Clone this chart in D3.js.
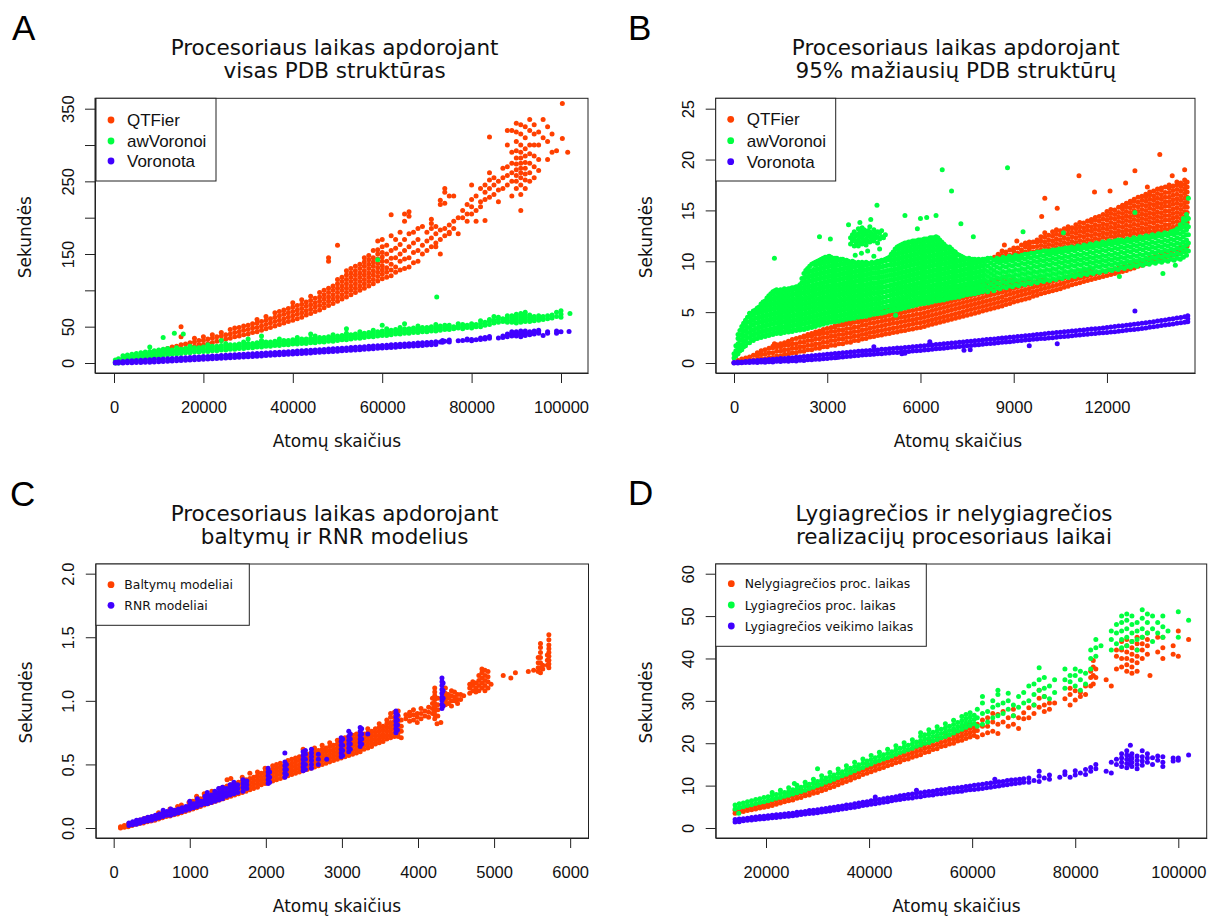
<!DOCTYPE html>
<html>
<head>
<meta charset="utf-8">
<script src="https://cdn.jsdelivr.net/npm/d3@7"></script>
<style>
  body { margin: 0; background: #fff; }
  svg { display: block; }
</style>
</head>
<body>
<svg id="fig" width="1214" height="917"></svg>
<script>
// Each series is a list of columns: [atom count, seconds, seconds, ...]
// (structures with the same atom count share one column).

// ---------- A: all PDB structures ----------
const atomTicksAll = [0, 20000, 40000, 60000, 80000, 100000];
const secTicksAll = [0, 50, 100, 150, 200, 250, 300, 350];
const secLabelsAll = [0, 50, 150, 250, 350];
const toolNames = ["QTFier", "awVoronoi", "Voronota"];

const qtfierAll = [
[500,0.5,2],[1000,1,3],[2000,2,4],[3000,3,6],[4000,4,7],[5000,5,9],[6000,6,10],[7000,7,12],[8000,9,13],[9000,10,15],[10000,11,17],[11000,13,18],[12000,14,20],[13000,16,22],[14000,17,23],[15000,19,25,36,50],[16000,20,26],[17000,22,28],[18000,23,29,34],[19000,25,31],[20000,25,31,36],[21000,27,33],[22000,28,34,39],[23000,30,36],[24000,31,37,42],[25000,33,39],[26000,34,40,46],[27000,36,42,48],[28000,37,43,49],[29000,39,45,51],[30000,40,46,52],[31000,42,48,54],[32000,43,49,55,60],[33000,45,51,57],[34000,47,53,59,64],[35000,49,55,61],[36000,51,57,63,69],[37000,53,59,65,71],[38000,55,61,67,73],[39000,57,63,69,75],[40000,59,65,71,77,83],[41000,61,67,73,79],[42000,63,69,75,81,87],[43000,66,72,78,84],[44000,68,74,80,86,92],[45000,71,77,83,89],[46000,73,79,85,91,97],[47000,76,82,88,94,100],[48000,79,85,91,97,103,140,145],[49000,82,88,94,100,106],[50000,85,91,97,103,109,115,162],[51000,88,94,100,106,112,118],[52000,91,97,103,109,115,121,127],[53000,94,100,106,112,118,124,130],[54000,97,103,109,115,121,127,133],[55000,100,106,112,118,124,130,136],[56000,103,109,115,121,127,133,139,145],[57000,106,112,118,124,130,136,142,148],[58000,109,115,121,127,133,139,145,155],[59000,113,119,125,131,137,143,150,156,168],[60000,116,122,128,134,140,146,152,160,170],[61000,118,125,131,140,150,162],[62000,120,128,136,144,155,175,204],[63000,125,132,145,158,170],[64000,128,140,150,163,180],[65000,130,143,155,170,195,205],[66000,132,145,160,178,202,208],[67000,138,152,165,180],[68000,140,155,170,185],[69000,150,162,188],[70000,155,168,180],[71000,160,172,185,192,198],[72000,160,165,178,188],[73000,150,170,183,218,224],[74000,175,185,220,235,240],[75000,178,180,190,230],[76000,185,195,230],[77000,178,200],[78000,200,210],[79000,195,205,218],[80000,205,215,225,245],[81000,195,210,230],[82000,215,222,240],[83000,196,225,235,245],[84000,228,240,252,262,311],[85000,232,245,255],[86000,222,238,250],[87000,240,255,268],[88000,245,258,270,300,320],[89000,230,250,262,275,290,320],[90000,240,250,258,266,274,282,292,305,318,330],[91000,210,232,245,255,262,268,275,282,290,300,315,328],[92000,240,252,260,268,276,285,295,310,325],[93000,250,262,275,288,300,320,335],[94000,255,270,285,300,315,328],[95000,265,280,300,318],[96000,310,335],[97000,280,305,325],[98000,290,315],[99000,292],[100300,357,309],[101500,290]
];
const awVoronoiAll = [
[300,0,2,4],[1000,0,3,6],[2000,1,4,7,10],[3000,2,5,8,11],[4000,3,6,9,12],[5000,4,7,10,13],[6000,5,8,11,14],[7000,6,9,12,15],[8000,7,10,13,16,22],[9000,8,11,14,17],[10000,9,12,15,18],[11000,10,13,16,19,35],[12000,11,14,17,20],[13000,12,15,18],[13500,41],[14000,12,15,18,21],[15000,13,16,19],[15500,40],[16000,14,17,20],[17000,14,17,20,23],[18000,15,18,21],[19000,15,18,21],[20000,16,19,22],[21000,16,19,22,25],[22000,17,20,23],[23000,17,20,23],[24000,18,21,24,31],[25000,18,21,24,27],[26000,19,22,25],[27000,19,22,25],[28000,20,23,26],[29000,20,23,26,29],[30000,21,24,27,33],[31000,21,24,27],[32000,22,25,28],[33000,22,25,28,31,37],[34000,23,26,29],[35000,23,26,29],[36000,24,27,30],[37000,24,27,30,33],[38000,25,28,31],[39000,25,28,31],[40000,26,29,32],[41000,26,29,32,35],[42000,27,30,33],[43000,27,30,33],[44000,28,31,34,40],[45000,28,31,34,37],[46000,29,32,35],[47000,29,32,35],[48000,30,33,36],[49000,30,33,36,39],[50000,31,34,37],[51000,32,35,38],[52000,32,35,38,41,47],[53000,33,36,39],[54000,34,37,40],[55000,34,37,40,43],[56000,35,38,41],[57000,36,39,42],[58000,36,39,42,45],[59000,37,40,43,142],[60000,38,41,44,52],[61000,38,41,44,47],[62000,39,42,45],[63000,40,43,46],[64000,40,43,46,49],[65000,41,44,47,54],[66000,41,44,47],[67000,42,45,48],[68000,42,45,48,51],[69000,43,46,49],[70000,43,46,49],[71000,44,47,50],[72000,44,47,50,53],[72200,91],[73000,45,48,51],[74000,46,49,52],[75000,46,49,52],[76000,47,50],[77000,48,51,54],[78000,47,50,53],[79000,49,52],[80000,48,51,54],[81000,50,53],[82000,50,54,58],[83000,52,56],[84000,53,57,60],[85000,55,59,64],[86000,56,60,63],[87000,57,61],[88000,56,59,62,65],[89000,56,59,62,65],[90000,55,58,61,64,67],[91000,56,59,62,65,68],[92000,57,60,63,66,70],[93000,57,60,63,66],[94000,58,61,64],[95000,59,62,65],[96000,60,64],[97000,61,65],[98000,62,66],[99000,64,70],[100000,63,67,72],[102000,68]
];
const voronotaAll = [
[300,0,1],[1000,0,1.8],[2000,0,2.2],[3000,0.2,2.6],[4000,0.5,3],[5000,0.6,3.3],[6000,0.8,3.8],[7000,1,4.2],[8000,1.2,4.6],[9000,1.5,5],[10000,1.8,5.2],[11000,2.1,5.6],[12000,2.4,6],[13000,2.7,6.3],[14000,3.1,6.7],[15000,3.4,7],[16000,3.8,7.4],[17000,4.1,7.7],[18000,4.5,8.1],[19000,4.8,8.4],[20000,5.2,8.8],[21000,5.5,9.1],[22000,5.9,9.5],[23000,6.2,9.8],[24000,6.6,10.2],[25000,6.9,10.5],[26000,7.3,10.9],[27000,7.6,11.2],[28000,8,11.6],[29000,8.3,11.9],[30000,8.7,12.3],[31000,9.1,12.7],[32000,9.4,13],[33000,9.8,13.4],[34000,10.2,13.8],[35000,10.5,14.1],[36000,10.9,14.5],[37000,11.3,14.9],[38000,11.6,15.2],[39000,12,15.6],[40000,12.4,16],[41000,12.8,16.4],[42000,13.2,16.8],[43000,13.5,17.1],[44000,13.9,17.5],[45000,14.3,17.9],[46000,14.7,18.3],[47000,15.1,18.7],[48000,15.5,19.1],[49000,15.9,19.5],[50000,16.3,19.9],[51000,16.7,20.3],[52000,17.1,20.7],[53000,17.6,21.2],[54000,18,21.6],[55000,18.4,22],[56000,18.8,22.4],[57000,19.3,22.9],[58000,19.7,23.3],[59000,20.2,23.8],[60000,20.6,24.2],[61000,21,24.6],[62000,21.4,25],[63000,21.8,25.4],[64000,22.2,25.8],[65000,22.6,26.2],[66000,23,26.6],[67000,23.4,27],[68000,23.8,27.4],[69000,24.2,27.8],[70000,24.7,28.3],[71000,25.1,28.7],[72000,25.5,29.1],[73000,29],[73500,28.5,31],[74000,30],[75000,29,31.5],[77000,30.5],[78000,31],[79000,31.5,33],[80000,30.5,32.5],[81000,32],[82000,32.5,34.5],[83000,33,35],[84000,34,36.5],[86000,34.5],[87000,35,37],[88000,36,38.5,40],[89000,37,39,41,43],[90000,37,39,41,43],[91000,36,38,40,42,44],[92000,38,40,42,44],[93000,39,41,43],[94000,40,42,44],[95000,41,43,45],[96000,38],[97000,41,43],[99000,41,44],[100000,43],[101800,43.5]
];

// ---------- B: smallest 95% of PDB structures ----------
const atomTicksSmall = [0, 3000, 6000, 9000, 12000];
const secTicksSmall = [0, 5, 10, 15, 20, 25];

const qtfierSmall = [
[0,0.03],[125,0.08,0.25],[250,0.05,0.4],[375,0.15,0.5],[500,0.15,0.6],[625,0.3,0.75],[750,0.3,0.7,1.0],[875,0.45,0.85,1.2],[1000,0.4,0.85,1.3],[1125,0.55,1.0,1.45],[1250,0.55,1.0,1.5,1.65],[1300,1.9],[1375,0.7,1.15,1.6,1.8],[1500,0.7,1.15,1.6,1.9],[1625,0.85,1.3,1.75,2.0],[1750,0.85,1.3,1.75,2.15],[1875,1.0,1.45,1.9,2.3],[2000,1.0,1.45,1.9,2.4],[2125,1.15,1.6,2.05,2.5],[2250,1.15,1.6,2.05,2.5,2.65],[2375,1.3,1.75,2.2,2.65,2.8],[2500,1.3,1.75,2.2,2.65,2.9],[2625,1.45,1.9,2.35,2.8,3.05],[2750,1.45,1.9,2.35,2.8,3.15],[2800,3.9],[2875,1.6,2.05,2.5,2.95,3.3],[3000,1.6,2.05,2.5,2.95,3.4],[3125,1.75,2.2,2.65,3.1,3.5],[3250,1.75,2.2,2.65,3.1,3.55,3.65],[3375,1.9,2.35,2.8,3.25,3.7],[3500,1.9,2.35,2.8,3.25,3.7,3.9],[3625,2.05,2.5,2.95,3.4,3.85,4.0],[3700,4.8],[3750,2.05,2.5,2.95,3.4,3.85,4.15],[3875,2.2,2.65,3.1,3.55,4.0,4.3],[4000,2.2,2.65,3.1,3.55,4.0,4.4],[4125,2.35,2.8,3.25,3.7,4.15,4.5],[4250,2.4,2.85,3.3,3.75,4.2,4.65],[4375,2.55,3.0,3.45,3.9,4.35,4.8],[4500,2.6,3.05,3.5,3.95,4.4,4.85],[4625,2.7,3.15,3.6,4.05,4.5,4.95],[4750,2.75,3.2,3.65,4.1,4.55,5.0,5.15],[4875,2.85,3.3,3.75,4.2,4.65,5.1,5.3],[5000,2.9,3.35,3.8,4.25,4.7,5.15,5.4],[5125,3.0,3.45,3.9,4.35,4.8,5.25,5.5],[5250,3.05,3.5,3.95,4.4,4.85,5.3,5.6],[5375,3.15,3.6,4.05,4.5,4.95,5.4,5.7],[5500,3.2,3.65,4.1,4.55,5.0,5.45,5.8],[5625,3.3,3.75,4.2,4.65,5.1,5.55,5.9],[5750,3.35,3.8,4.25,4.7,5.15,5.6,6.0],[5875,3.45,3.9,4.35,4.8,5.25,5.7,6.1],[6000,3.5,3.95,4.4,4.85,5.3,5.75,6.2],[6125,3.6,4.05,4.5,4.95,5.4,5.85,6.3],[6250,3.7,4.15,4.6,5.05,5.5,5.95,6.4],[6300,7.3],[6375,3.8,4.25,4.7,5.15,5.6,6.05,6.5],[6500,3.9,4.35,4.8,5.25,5.7,6.15,6.6],[6625,4.0,4.45,4.9,5.35,5.8,6.25,6.7],[6750,4.1,4.55,5.0,5.45,5.9,6.35,6.8],[6875,4.2,4.65,5.1,5.55,6.0,6.45,6.9],[7000,4.3,4.75,5.2,5.65,6.1,6.55,7.0],[7125,4.4,4.85,5.3,5.75,6.2,6.65,7.1],[7250,4.5,4.95,5.4,5.85,6.3,6.75,7.2],[7375,4.6,5.05,5.5,5.95,6.4,6.85,7.3],[7500,4.7,5.15,5.6,6.05,6.5,6.95,7.4],[7625,4.8,5.25,5.7,6.15,6.6,7.05,7.5],[7750,4.9,5.35,5.8,6.25,6.7,7.15,7.6],[7875,5.0,5.45,5.9,6.35,6.8,7.25,7.7],[8000,5.1,5.55,6.0,6.45,6.9,7.35,7.8],[8125,5.2,5.65,6.1,6.55,7.0,7.45,7.9],[8250,5.3,5.75,6.2,6.65,7.1,7.55,8.0],[8375,5.4,5.85,6.3,6.75,7.2,7.65,8.1,10.4],[8500,5.5,5.95,6.4,6.85,7.3,7.75,8.2,10.3,10.7],[8625,5.6,6.05,6.5,6.95,7.4,7.85,8.3,10.6,11.0],[8700,11.6],[8750,5.75,6.2,6.65,7.1,7.55,8.0,8.45,10.5,10.9],[8875,5.85,6.3,6.75,7.2,7.65,8.1,10.6,11.1],[9000,6.0,6.45,6.9,7.35,7.8,8.25,10.6,11.0,11.3],[9100,12.0],[9125,6.1,6.55,7.0,7.45,7.9,10.8,11.3],[9250,6.2,6.65,7.1,7.55,8.0,10.7,11.1,11.6],[9375,6.3,6.75,7.2,7.65,8.1,10.9,11.4,11.8],[9500,6.4,6.85,7.3,7.75,8.2,10.8,11.2,11.6,11.9],[9625,6.55,7.0,7.45,7.9,10.9,11.4,11.9],[9750,6.65,7.1,7.55,8.0,11.0,11.45,11.9,12.1],[9875,6.8,7.25,7.7,8.15,11.1,11.55,12.0,12.4],[9900,14.4],[10000,6.9,7.35,7.8,8.25,11.0,11.45,11.9,12.35,12.8,16.2],[10125,7.0,7.45,7.9,11.2,11.65,12.1,12.55],[10250,7.1,7.55,8.0,11.1,11.55,12.0,12.45,12.9],[10375,7.2,7.65,8.1,11.3,11.75,12.2,12.65,13.1],[10400,15.2],[10500,7.3,7.75,8.2,11.2,11.65,12.1,12.55,13.0],[10625,7.45,7.9,8.35,11.4,11.85,12.3,12.75,13.2],[10750,7.55,8.0,8.45,11.3,11.75,12.2,12.65,13.1,13.4],[10875,7.7,8.15,8.6,11.5,11.95,12.4,12.85,13.3],[11000,7.8,8.25,8.7,11.4,11.85,12.3,12.75,13.2,13.6],[11100,18.4],[11125,7.9,8.35,8.8,11.6,12.05,12.5,12.95,13.4,13.8],[11250,8.0,8.45,8.9,11.5,11.95,12.4,12.85,13.3,13.75],[11375,8.1,8.55,9.0,11.7,12.15,12.6,13.05,13.5,13.95],[11500,8.2,8.65,9.1,11.6,12.05,12.5,12.95,13.4,13.85,14.1],[11600,16.8],[11625,8.3,8.75,11.8,12.25,12.7,13.15,13.6,14.05,14.3],[11750,8.4,8.85,11.7,12.15,12.6,13.05,13.5,13.95,14.4],[11875,8.5,8.95,11.9,12.35,12.8,13.25,13.7,14.15,14.6],[12000,8.6,9.05,11.8,12.25,12.7,13.15,13.6,14.05,14.5,14.9],[12100,16.9],[12125,8.7,9.15,12.0,12.45,12.9,13.35,13.8,14.25,14.7,15.1],[12250,8.8,9.25,11.9,12.35,12.8,13.25,13.7,14.15,14.6,15.05],[12375,8.9,9.35,12.1,12.55,13.0,13.45,13.9,14.35,14.8,15.3],[12500,9.0,9.45,12.0,12.45,12.9,13.35,13.8,14.25,14.7,15.15,15.5],[12600,17.7],[12625,9.1,9.55,12.2,12.65,13.1,13.55,14.0,14.45,14.9,15.35,15.7],[12750,9.25,9.7,12.1,12.55,13.0,13.45,13.9,14.35,14.8,15.25,15.7,15.9],[12875,9.35,9.8,12.3,12.75,13.2,13.65,14.1,14.55,15.0,15.45,15.9,16.1],[12900,18.9],[13000,9.5,9.95,12.2,12.65,13.1,13.55,14.0,14.45,14.9,15.35,15.8,16.3],[13125,9.6,10.05,12.4,12.85,13.3,13.75,14.2,14.65,15.1,15.55,16.0,16.4],[13250,9.75,10.2,12.3,12.75,13.2,13.65,14.1,14.55,15.0,15.45,15.9,16.35,16.6],[13300,17.3],[13375,9.85,10.3,12.5,12.95,13.4,13.85,14.3,14.75,15.2,15.65,16.1,16.55,16.8],[13500,10.0,10.45,12.4,12.85,13.3,13.75,14.2,14.65,15.1,15.55,16.0,16.45,16.9],[13625,10.1,10.55,12.6,13.05,13.5,13.95,14.4,14.85,15.3,15.75,16.2,16.65,17.1],[13700,20.5],[13750,10.25,10.7,12.5,12.95,13.4,13.85,14.3,14.75,15.2,15.65,16.1,16.55,17.0,17.2],[13875,10.35,10.8,12.7,13.15,13.6,14.05,14.5,14.95,15.4,15.85,16.3,16.75,17.3],[14000,10.5,10.95,12.7,13.15,13.6,14.05,14.5,14.95,15.4,15.85,16.3,16.75,17.2,17.5],[14100,18.4],[14125,10.6,11.05,12.9,13.35,13.8,14.25,14.7,15.15,15.6,16.05,16.5,16.95,17.4],[14250,10.7,11.15,13.0,13.45,13.9,14.35,14.8,15.25,15.7,16.15,16.6,17.05,17.5,17.8],[14375,10.85,11.3,13.3,13.75,14.2,14.65,15.1,15.55,16.0,16.45,16.9,17.35,17.7],[14500,11.0,11.45,13.5,13.95,14.4,14.85,15.3,15.75,16.2,16.65,17.1,17.55,18.0,19.0],[14580,11.5,13.8,14.3,14.8,15.3,15.8,16.3,16.8,17.3,17.8]
];
const awVoronoiSmall = [
[0,0.5,0.9],[60,0.7,1.2,1.7],[130,0.9,1.4,1.9,2.4,2.8],[190,1.2,1.7,2.2,2.7,3.2],[250,1.3,1.8,2.3,2.8,3.3,3.6],[310,1.6,2.1,2.6,3.1,3.6,3.9],[370,1.7,2.2,2.7,3.2,3.7,4.2],[435,2.0,2.5,3.0,3.5,4.0,4.5],[500,2.0,2.5,3.0,3.5,4.0,4.5,4.9],[560,2.3,2.8,3.3,3.8,4.3,4.8],[620,2.2,2.7,3.2,3.7,4.2,4.7,5.1],[690,2.4,2.9,3.4,3.9,4.4,4.9,5.2],[750,2.4,2.9,3.4,3.9,4.4,4.9,5.4],[810,2.6,3.1,3.6,4.1,4.6,5.1,5.5],[870,2.5,3.0,3.5,4.0,4.5,5.0,5.5,5.8],[935,2.7,3.2,3.7,4.2,4.7,5.2,5.7,6.0],[1000,2.6,3.1,3.6,4.1,4.6,5.1,5.6,6.1],[1060,2.8,3.3,3.8,4.3,4.8,5.3,5.8,6.4],[1120,2.7,3.2,3.7,4.2,4.7,5.2,5.7,6.2,6.6],[1185,2.9,3.4,3.9,4.4,4.9,5.4,5.9,6.4,6.8],[1250,2.8,3.3,3.8,4.3,4.8,5.3,5.8,6.3,6.8,7.0],[1300,10.3],[1310,3.0,3.5,4.0,4.5,5.0,5.5,6.0,6.5,7.1],[1370,2.9,3.4,3.9,4.4,4.9,5.4,5.9,6.4,6.9,7.2],[1435,3.1,3.6,4.1,4.6,5.1,5.6,6.1,6.6,7.1],[1500,2.9,3.4,3.9,4.4,4.9,5.4,5.9,6.4,6.9,7.2],[1560,3.1,3.6,4.1,4.6,5.1,5.6,6.1,6.6,7.1],[1620,3.0,3.5,4.0,4.5,5.0,5.5,6.0,6.5,7.0,7.3],[1685,3.2,3.7,4.2,4.7,5.2,5.7,6.2,6.7,7.2],[1750,3.05,3.5,4.0,4.5,5.0,5.5,6.0,6.5,7.0,7.3],[1810,3.2,3.7,4.2,4.7,5.2,5.7,6.2,6.7,7.3],[1870,3.1,3.6,4.1,4.6,5.1,5.6,6.1,6.6,7.1,7.4],[1935,3.3,3.8,4.3,4.8,5.3,5.8,6.3,6.8,7.4],[2000,3.2,3.7,4.2,4.7,5.2,5.7,6.2,6.7,7.2,7.5],[2060,3.4,3.9,4.4,4.9,5.4,5.9,6.4,6.9,7.5],[2120,3.25,3.7,4.2,4.7,5.2,5.7,6.2,6.7,7.2,7.7],[2185,3.4,3.9,4.4,4.9,5.4,5.9,6.4,6.9,7.4,7.9,8.3],[2250,3.3,3.8,4.3,4.8,5.3,5.8,6.3,6.8,7.3,7.8,8.3,8.8],[2310,3.5,4.0,4.5,5.0,5.5,6.0,6.5,7.0,7.5,8.0,8.5,9.1],[2370,3.4,3.9,4.4,4.9,5.4,5.9,6.4,6.9,7.4,7.9,8.4,8.9,9.3],[2435,3.6,4.1,4.6,5.1,5.6,6.1,6.6,7.1,7.6,8.1,8.6,9.1,9.5],[2500,3.5,4.0,4.5,5.0,5.5,6.0,6.5,7.0,7.5,8.0,8.5,9.0,9.7],[2560,3.7,4.2,4.7,5.2,5.7,6.2,6.7,7.2,7.7,8.2,8.7,9.2,9.8],[2620,3.6,4.1,4.6,5.1,5.6,6.1,6.6,7.1,7.6,8.1,8.6,9.1,9.6,9.9],[2685,3.8,4.3,4.8,5.3,5.8,6.3,6.8,7.3,7.8,8.3,8.8,9.3,10.0],[2750,3.7,4.2,4.7,5.2,5.7,6.2,6.7,7.2,7.7,8.2,8.7,9.2,9.7,10.1,12.4],[2810,3.9,4.4,4.9,5.4,5.9,6.4,6.9,7.4,7.9,8.4,8.9,9.4,9.9,10.2],[2870,3.8,4.3,4.8,5.3,5.8,6.3,6.8,7.3,7.8,8.3,8.8,9.3,9.8,10.3],[2935,4.0,4.5,5.0,5.5,6.0,6.5,7.0,7.5,8.0,8.5,9.0,9.5,10.0,10.4],[3000,3.9,4.4,4.9,5.4,5.9,6.4,6.9,7.4,7.9,8.4,8.9,9.4,9.9,10.4],[3060,4.1,4.6,5.1,5.6,6.1,6.6,7.1,7.6,8.1,8.6,9.1,9.6,10.1,10.5],[3100,12.2],[3120,4.0,4.5,5.0,5.5,6.0,6.5,7.0,7.5,8.0,8.5,9.0,9.5,10.0,10.4],[3185,4.2,4.7,5.2,5.7,6.2,6.7,7.2,7.7,8.2,8.7,9.2,9.7,10.3],[3250,4.05,4.5,5.0,5.5,6.0,6.5,7.0,7.5,8.0,8.5,9.0,9.5,10.0,10.3],[3310,4.2,4.7,5.2,5.7,6.2,6.7,7.2,7.7,8.2,8.7,9.2,9.7,10.3],[3370,4.1,4.6,5.1,5.6,6.1,6.6,7.1,7.6,8.1,8.6,9.1,9.6,10.1],[3435,4.3,4.8,5.3,5.8,6.3,6.8,7.3,7.8,8.3,8.8,9.3,9.8,10.2],[3500,4.2,4.7,5.2,5.7,6.2,6.7,7.2,7.7,8.2,8.7,9.2,9.7,10.2],[3560,4.4,4.9,5.4,5.9,6.4,6.9,7.4,7.9,8.4,8.9,9.4,9.9],[3620,4.3,4.8,5.3,5.8,6.3,6.8,7.3,7.8,8.3,8.8,9.3,9.8,10.1],[3685,4.5,5.0,5.5,6.0,6.5,7.0,7.5,8.0,8.5,9.0,9.5,10.0,13.6],[3750,4.35,4.8,5.3,5.8,6.3,6.8,7.3,7.8,8.3,8.8,9.3,9.8,11.7,12.3],[3810,4.5,5.0,5.5,6.0,6.5,7.0,7.5,8.0,8.5,9.0,9.5,10.0,12.0,12.6],[3870,4.4,4.9,5.4,5.9,6.4,6.9,7.4,7.9,8.4,8.9,9.4,9.9,11.5,12.2,12.9],[3900,10.6],[3935,4.6,5.1,5.6,6.1,6.6,7.1,7.6,8.1,8.6,9.1,9.6,11.8,12.5],[4000,4.5,5.0,5.5,6.0,6.5,7.0,7.5,8.0,8.5,9.0,9.5,9.9,11.5,12.1,12.7,13.2],[4050,13.8],[4060,4.7,5.2,5.7,6.2,6.7,7.2,7.7,8.2,8.7,9.2,9.7,11.9,12.4,12.9],[4100,10.8],[4120,4.55,5.0,5.5,6.0,6.5,7.0,7.5,8.0,8.5,9.0,9.5,9.9,11.7,12.3,12.8,13.3],[4185,4.7,5.2,5.7,6.2,6.7,7.2,7.7,8.2,8.7,9.2,9.7,12.0,12.6,13.1],[4250,4.6,5.1,5.6,6.1,6.6,7.1,7.6,8.1,8.6,9.1,9.6,9.9,11.6,12.2,12.8],[4300,11.0],[4310,4.8,5.3,5.8,6.3,6.8,7.3,7.8,8.3,8.8,9.3,9.8,12.0,12.5,13.0],[4370,4.7,5.2,5.7,6.2,6.7,7.2,7.7,8.2,8.7,9.2,9.7,11.9,12.4,12.9,13.4],[4400,14.1],[4435,4.9,5.4,5.9,6.4,6.9,7.4,7.9,8.4,8.9,9.4,9.9,12.2,12.7],[4500,4.8,5.3,5.8,6.3,6.8,7.3,7.8,8.3,8.8,9.3,9.8,10.5,12.0,12.5,13.1],[4560,4.9,5.4,5.9,6.4,6.9,7.4,7.9,8.4,8.9,9.4,9.9,12.3,12.8],[4600,15.5],[4620,4.85,5.3,5.8,6.3,6.8,7.3,7.8,8.3,8.8,9.3,9.8,10.0,11.8,12.4,12.9],[4685,5.0,5.5,6.0,6.5,7.0,7.5,8.0,8.5,9.0,9.5,10.0,11.2,12.2,12.8],[4750,4.9,5.4,5.9,6.4,6.9,7.4,7.9,8.4,8.9,9.4,9.9,10.1,12.4,13.0],[4810,5.0,5.5,6.0,6.5,7.0,7.5,8.0,8.5,9.0,9.5,10.1,12.3],[4870,5.0,5.5,6.0,6.5,7.0,7.5,8.0,8.5,9.0,9.5,10.0,10.2,12.6],[4935,5.1,5.6,6.1,6.6,7.1,7.6,8.1,8.6,9.1,9.6,10.3],[5000,5.1,5.6,6.1,6.6,7.1,7.6,8.1,8.6,9.1,9.6,10.1,10.4],[5060,5.2,5.7,6.2,6.7,7.2,7.7,8.2,8.7,9.2,9.7,10.2,10.7],[5120,5.15,5.6,6.1,6.6,7.1,7.6,8.1,8.6,9.1,9.6,10.1,10.6,10.9],[5185,5.3,5.8,6.3,6.8,7.3,7.8,8.3,8.8,9.3,9.8,10.3,10.8,11.2],[5200,4.7],[5250,5.2,5.7,6.2,6.7,7.2,7.7,8.2,8.7,9.2,9.7,10.2,10.7,11.2,11.4],[5310,5.4,5.9,6.4,6.9,7.4,7.9,8.4,8.9,9.4,9.9,10.4,10.9,11.5],[5370,5.3,5.8,6.3,6.8,7.3,7.8,8.3,8.8,9.3,9.8,10.3,10.8,11.3,11.6],[5435,5.5,6.0,6.5,7.0,7.5,8.0,8.5,9.0,9.5,10.0,10.5,11.0,11.7],[5500,5.4,5.9,6.4,6.9,7.4,7.9,8.4,8.9,9.4,9.9,10.4,10.9,11.4,11.8,14.5],[5560,5.6,6.1,6.6,7.1,7.6,8.1,8.6,9.1,9.6,10.1,10.6,11.1,11.8],[5620,5.5,6.0,6.5,7.0,7.5,8.0,8.5,9.0,9.5,10.0,10.5,11.0,11.5,11.9],[5685,5.7,6.2,6.7,7.2,7.7,8.2,8.7,9.2,9.7,10.2,10.7,11.2,11.9],[5750,5.6,6.1,6.6,7.1,7.6,8.1,8.6,9.1,9.6,10.1,10.6,11.1,11.6,12.0],[5810,5.8,6.3,6.8,7.3,7.8,8.3,8.8,9.3,9.8,10.3,10.8,11.3,12.0],[5870,5.7,6.2,6.7,7.2,7.7,8.2,8.7,9.2,9.7,10.2,10.7,11.2,11.7,12.0],[5900,13.2],[5935,5.9,6.4,6.9,7.4,7.9,8.4,8.9,9.4,9.9,10.4,10.9,11.4,12.1],[6000,5.8,6.3,6.8,7.3,7.8,8.3,8.8,9.3,9.8,10.3,10.8,11.3,11.8,12.1,14.2],[6060,6.0,6.5,7.0,7.5,8.0,8.5,9.0,9.5,10.0,10.5,11.0,11.5,12.1],[6120,5.85,6.3,6.8,7.3,7.8,8.3,8.8,9.3,9.8,10.3,10.8,11.3,11.8,12.2],[6185,6.0,6.5,7.0,7.5,8.0,8.5,9.0,9.5,10.0,10.5,11.0,11.5,12.2],[6200,14.3],[6250,5.9,6.4,6.9,7.4,7.9,8.4,8.9,9.4,9.9,10.4,10.9,11.4,11.9,12.2],[6310,6.1,6.6,7.1,7.6,8.1,8.6,9.1,9.6,10.1,10.6,11.1,11.6,12.3],[6370,6.0,6.5,7.0,7.5,8.0,8.5,9.0,9.5,10.0,10.5,11.0,11.5,12.0,12.3],[6435,6.2,6.7,7.2,7.7,8.2,8.7,9.2,9.7,10.2,10.7,11.2,11.7,12.3],[6500,6.1,6.6,7.1,7.6,8.1,8.6,9.1,9.6,10.1,10.6,11.1,11.6,12.1,12.4,14.5],[6560,6.3,6.8,7.3,7.8,8.3,8.8,9.3,9.8,10.3,10.8,11.3,11.8,12.3],[6620,6.15,6.6,7.1,7.6,8.1,8.6,9.1,9.6,10.1,10.6,11.1,11.6,12.1],[6685,6.3,6.8,7.3,7.8,8.3,8.8,9.3,9.8,10.3,10.8,11.3,11.9],[6700,19.0],[6750,6.2,6.7,7.2,7.7,8.2,8.7,9.2,9.7,10.2,10.7,11.2,11.7],[6810,6.4,6.9,7.4,7.9,8.4,8.9,9.4,9.9,10.4,10.9,11.5],[6870,6.3,6.8,7.3,7.8,8.3,8.8,9.3,9.8,10.3,10.8,11.3],[6935,6.5,7.0,7.5,8.0,8.5,9.0,9.5,10.0,10.5,11.0,11.4],[7000,6.4,6.9,7.4,7.9,8.4,8.9,9.4,9.9,10.4,10.9,11.2,16.9],[7060,6.6,7.1,7.6,8.1,8.6,9.1,9.6,10.1,10.6,11.0],[7120,6.45,6.9,7.4,7.9,8.4,8.9,9.4,9.9,10.4,10.9],[7185,6.6,7.1,7.6,8.1,8.6,9.1,9.6,10.1,10.7],[7250,6.5,7.0,7.5,8.0,8.5,9.0,9.5,10.0,10.6],[7300,13.7],[7310,6.7,7.2,7.7,8.2,8.7,9.2,9.7,10.2,10.5],[7370,6.6,7.1,7.6,8.1,8.6,9.1,9.6,10.1,10.4],[7435,6.8,7.3,7.8,8.3,8.8,9.3,9.8,10.3],[7500,6.7,7.2,7.7,8.2,8.7,9.2,9.7,10.2],[7560,6.9,7.4,7.9,8.4,8.9,9.4,9.9,10.3],[7620,6.75,7.2,7.7,8.2,8.7,9.2,9.7,10.2],[7685,6.9,7.4,7.9,8.4,8.9,9.4,9.9,10.2],[7700,12.4],[7750,6.8,7.3,7.8,8.3,8.8,9.3,9.8,10.2],[7810,7.0,7.5,8.0,8.5,9.0,9.5,10.0],[7870,6.9,7.4,7.9,8.4,8.9,9.4,9.9,10.2],[7935,7.1,7.6,8.1,8.6,9.1,9.6,10.1],[8000,7.0,7.5,8.0,8.5,9.0,9.5,10.0,10.2],
[8060,7.2,7.7,8.2,8.7,9.2,9.7,10.2],[8160,7.0,7.5,8.0,8.5,9.0,9.5,10.0,10.3],[8260,7.3,7.8,8.3,8.8,9.3,9.8,10.3],[8360,7.1,7.6,8.1,8.6,9.1,9.6,10.1],[8460,7.4,7.9,8.4,8.9,9.4,9.9,10.3],[8560,7.3,7.8,8.3,8.8,9.3,9.8,10.2],[8660,7.5,8.0,8.5,9.0,9.5,10.0,10.4],[8760,7.4,7.9,8.4,8.9,9.4,9.9,10.3],[8800,19.2],[8860,7.6,8.1,8.6,9.1,9.6,10.1,10.5],[8960,7.5,8.0,8.5,9.0,9.5,10.0,10.4],[9060,7.7,8.2,8.7,9.2,9.7,10.2,10.6],[9160,7.6,8.1,8.6,9.1,9.6,10.1,10.5],[9260,7.8,8.3,8.8,9.3,9.8,10.3,10.6],[9300,12.9],[9360,7.7,8.2,8.7,9.2,9.7,10.2,10.7],[9460,7.9,8.4,8.9,9.4,9.9,10.4,10.7],[9560,7.8,8.3,8.8,9.3,9.8,10.3,10.8],[9660,8.0,8.5,9.0,9.5,10.0,10.5,10.8],[9760,7.9,8.4,8.9,9.4,9.9,10.4,10.9],[9860,8.1,8.6,9.1,9.6,10.1,10.6,10.9],[9960,8.0,8.5,9.0,9.5,10.0,10.5,11.0],[10060,8.2,8.7,9.2,9.7,10.2,10.7,11.0],[10160,8.1,8.6,9.1,9.6,10.1,10.6,11.0],[10260,8.3,8.8,9.3,9.8,10.3,10.8,11.1],[10360,8.2,8.7,9.2,9.7,10.2,10.7,11.1],[10460,8.4,8.9,9.4,9.9,10.4,10.9,11.2],[10560,8.3,8.8,9.3,9.8,10.3,10.8,11.2],[10600,12.8],[10660,8.5,9.0,9.5,10.0,10.5,11.0,11.3],[10760,8.4,8.9,9.4,9.9,10.4,10.9,11.3],[10860,8.6,9.1,9.6,10.1,10.6,11.1,11.4],[10960,8.5,9.0,9.5,10.0,10.5,11.0,11.3],[11060,8.7,9.2,9.7,10.2,10.7,11.2,11.5],[11160,8.6,9.1,9.6,10.1,10.6,11.1,11.4],[11260,8.8,9.3,9.8,10.3,10.8,11.3,11.6],[11360,8.7,9.2,9.7,10.2,10.7,11.2,11.5],[11460,8.9,9.4,9.9,10.4,10.9,11.4,11.7],[11560,8.8,9.3,9.8,10.3,10.8,11.3,11.6],[11660,9.0,9.5,10.0,10.5,11.0,11.5,11.8],[11760,8.9,9.4,9.9,10.4,10.9,11.4,11.7],[11860,9.1,9.6,10.1,10.6,11.1,11.6,11.9],[11960,9.0,9.5,10.0,10.5,11.0,11.5,11.8],[12060,9.2,9.7,10.2,10.7,11.2,11.7,12.0],[12160,9.1,9.6,10.1,10.6,11.1,11.6,11.9],[12260,9.3,9.8,10.3,10.8,11.3,11.8,12.0],[12360,9.2,9.7,10.2,10.7,11.2,11.7,12.1],[12400,8.5],[12460,9.4,9.9,10.4,10.9,11.4,11.9,12.1],[12560,9.3,9.8,10.3,10.8,11.3,11.8,12.0],[12660,9.5,10.0,10.5,11.0,11.5,12.0,12.2],[12760,9.4,9.9,10.4,10.9,11.4,11.9,12.1],[12860,9.6,10.1,10.6,11.1,11.6,12.1,12.3],[12900,14.8],[12960,9.5,10.0,10.5,11.0,11.5,12.0,12.2],[13060,9.7,10.2,10.7,11.2,11.7,12.2,12.4],[13160,9.6,10.1,10.6,11.1,11.6,12.1,12.3],[13260,9.8,10.3,10.8,11.3,11.8,12.3,12.5],[13360,9.7,10.2,10.7,11.2,11.7,12.2,12.4],[13460,9.9,10.4,10.9,11.4,11.9,12.4,12.6],[13560,9.8,10.3,10.8,11.3,11.8,12.3,12.5],[13660,10.0,10.5,11.0,11.5,12.0,12.5,12.7],[13760,9.9,10.4,10.9,11.4,11.9,12.4,12.6],[13800,8.8],[13860,10.1,10.6,11.1,11.6,12.1,12.6,12.8],[13960,10.0,10.5,11.0,11.5,12.0,12.5,12.7],[14060,10.2,10.7,11.2,11.7,12.2,12.7,12.9],[14160,10.1,10.6,11.1,11.6,12.1,12.6,13.0],[14200,9.6],[14260,10.3,10.8,11.3,11.8,12.3,12.8,13.2],[14360,10.2,10.7,11.2,11.7,12.2,12.7,13.2,13.6],[14460,10.4,10.9,11.4,11.9,12.4,12.9,13.4,13.9,14.2],[14560,10.6,11.1,11.6,12.1,12.6,13.1,13.6,14.1,14.6],[14620,11.0,11.8,12.6,13.4,14.2,16.2]
];
const voronotaSmall = [
[0,0.01,0.05],[125,0.0,0.09],[250,0.03,0.1],[375,0.05,0.14],[500,0.04,0.19],[625,0.08,0.21],[750,0.06,0.25],[875,0.11,0.27],[1000,0.08,0.32],[1125,0.13,0.34],[1250,0.1,0.37],[1375,0.16,0.4],[1500,0.14,0.44],[1625,0.19,0.45],[1750,0.17,0.5],[1875,0.22,0.52],[2000,0.2,0.57],[2125,0.26,0.58],[2250,0.25,0.64],[2375,0.31,0.66],[2500,0.32,0.72],[2625,0.37,0.73],[2750,0.38,0.79],[2875,0.43,0.81],[3000,0.45,0.86],[3125,0.5,0.88],[3250,0.52,0.94],[3300,0.55],[3375,0.57,0.96],[3500,0.59,1.01],[3625,0.65,1.03],[3750,0.67,1.09],[3875,0.72,1.11],[4000,0.74,1.16],[4125,0.78,1.17],[4250,0.8,1.21],[4375,0.84,1.23],[4500,0.86,1.28,1.6],[4625,0.9,1.29],[4750,0.92,1.34],[4875,0.96,1.36],[5000,0.99,1.41],[5125,1.02,1.42],[5250,1.04,1.47],[5375,1.08,1.48],[5400,0.9],[5500,1.11,1.53,0.95],[5625,1.14,1.55],[5750,1.17,1.6],[5875,1.2,1.62],[6000,1.24,1.66],[6125,1.28,1.7],[6250,1.31,1.74],[6300,2.1],[6375,1.35,1.77],[6500,1.39,1.81],[6625,1.43,1.85],[6750,1.46,1.89],[6875,1.5,1.92],[7000,1.54,1.96],[7125,1.58,2.0],[7250,1.61,2.04],[7375,1.65,2.07],[7400,1.25],[7500,1.69,2.11],[7600,1.3],[7625,1.73,2.15],[7750,1.76,2.19],[7875,1.8,2.22],[8000,1.84,2.26],[8125,1.88,2.3],[8250,1.91,2.34],[8375,1.95,2.37],[8500,1.99,2.41],[8625,2.03,2.45],[8750,2.06,2.49],[8875,2.1,2.52],[9000,2.14,2.56],[9125,2.18,2.6],[9250,2.21,2.64],[9375,2.25,2.67],[9500,2.29,2.71,1.7],[9625,2.33,2.75],[9750,2.36,2.79],[9875,2.4,2.82],[10000,2.42,2.88],[10125,2.46,2.92],[10250,2.49,2.96],[10375,2.53,2.99],[10400,1.9],[10500,2.57,3.03],[10625,2.6,3.07],[10750,2.64,3.1],[10875,2.68,3.14],[11000,2.72,3.18],[11125,2.75,3.22],[11250,2.79,3.25],[11375,2.83,3.29],[11500,2.87,3.33],[11625,2.9,3.37],[11750,2.94,3.4],[11875,2.98,3.44],[12000,3.0,3.5],[12125,3.04,3.54],[12250,3.08,3.58],[12375,3.13,3.63],[12500,3.17,3.67],[12625,3.21,3.71],[12750,3.26,3.76],[12875,3.3,3.8],[12900,5.1],[13000,3.35,3.85],[13125,3.4,3.9],[13250,3.45,3.95],[13375,3.51,4.01],[13500,3.56,4.06],[13625,3.62,4.12],[13750,3.68,4.18],[13875,3.73,4.23],[14000,3.78,4.3],[14125,3.84,4.36],[14250,3.9,4.42],[14375,3.96,4.48],[14500,4.0,4.55],[14600,4.05,4.35,4.65]
];

// ---------- C: protein and RNA models ----------
const atomTicksModels = [0, 1000, 2000, 3000, 4000, 5000, 6000];
const secTicksModels = [0, 0.5, 1, 1.5, 2];
const modelNames = ["Baltymų modeliai", "RNR modeliai"];

const proteinModels = [
[90,0.0,0.01],[140,0.005,0.02],[190,0.01,0.03],[240,0.02,0.04],[290,0.03,0.05],[340,0.035,0.06],[390,0.04,0.07],[440,0.05,0.08],[490,0.055,0.085],[540,0.06,0.095],[590,0.07,0.1,0.12],[640,0.08,0.11],[690,0.09,0.12],[740,0.095,0.13,0.15],[790,0.105,0.14],[840,0.11,0.14,0.17],[890,0.12,0.15,0.18],[940,0.13,0.16],[990,0.14,0.17,0.2],[1040,0.15,0.18,0.21],[1090,0.16,0.19,0.22,0.25],[1140,0.17,0.2,0.23],[1190,0.18,0.21,0.24,0.27],[1240,0.19,0.22,0.25],[1290,0.2,0.23,0.26,0.29],[1340,0.21,0.24,0.27],[1390,0.22,0.25,0.28,0.31],[1440,0.23,0.26,0.29,0.32],[1490,0.24,0.27,0.3,0.33,0.38],[1540,0.25,0.28,0.31,0.34,0.39],[1590,0.26,0.29,0.32,0.35],[1640,0.27,0.3,0.33,0.36],[1690,0.28,0.31,0.34,0.37,0.4],[1740,0.29,0.32,0.35,0.38],[1790,0.3,0.33,0.36,0.39,0.43],[1840,0.31,0.34,0.37,0.4],[1890,0.32,0.35,0.38,0.41,0.44],[1940,0.34,0.37,0.4,0.43],[1990,0.35,0.38,0.41,0.44,0.47],[2040,0.36,0.39,0.42,0.45],[2090,0.37,0.4,0.43,0.46,0.49],[2140,0.38,0.41,0.44,0.47,0.5],[2190,0.39,0.42,0.45,0.48,0.51],[2240,0.4,0.43,0.46,0.49],[2290,0.41,0.44,0.47,0.5,0.53],[2340,0.42,0.45,0.48,0.51,0.54],[2390,0.43,0.46,0.49,0.52,0.55],[2440,0.44,0.47,0.5,0.53,0.56],[2490,0.45,0.48,0.51,0.54,0.57,0.62],[2540,0.46,0.49,0.52,0.55,0.58],[2590,0.47,0.5,0.53,0.56,0.59],[2640,0.48,0.51,0.54,0.57,0.6,0.63],[2690,0.49,0.52,0.55,0.58,0.61],[2740,0.5,0.53,0.56,0.59,0.62,0.65],[2790,0.51,0.54,0.57,0.6,0.63],[2840,0.52,0.55,0.58,0.61,0.64,0.67],[2890,0.53,0.56,0.59,0.62,0.65],[2940,0.54,0.57,0.6,0.63,0.66,0.69],[2990,0.55,0.58,0.61,0.64,0.67,0.7],[3040,0.56,0.59,0.62,0.65,0.68,0.71],[3090,0.57,0.6,0.63,0.66,0.69,0.72],[3140,0.58,0.61,0.64,0.67,0.7,0.73],[3190,0.59,0.62,0.65,0.68,0.71,0.74],[3240,0.6,0.63,0.66,0.69,0.72,0.75],[3290,0.62,0.65,0.68,0.71,0.74],[3340,0.63,0.66,0.69,0.72,0.75,0.78],[3390,0.64,0.67,0.7,0.73,0.76],[3440,0.66,0.69,0.72,0.75,0.78],[3490,0.67,0.7,0.73,0.76,0.79,0.82],[3540,0.68,0.71,0.74,0.77,0.8],[3590,0.7,0.73,0.76,0.79,0.82,0.85],[3640,0.71,0.74,0.77,0.8,0.83,0.87,0.9],[3690,0.72,0.75,0.78,0.81,0.84,0.87,0.91],[3740,0.72,0.75,0.78,0.81,0.84,0.88,0.92],[3780,0.71,0.76,0.8,0.85],
[3840,0.86,0.89],[3890,0.84,0.88,0.91],[3940,0.85,0.89,0.93],[3990,0.83,0.87,0.9],[4040,0.86,0.9,0.94],[4090,0.88,0.92],[4140,0.87,0.91,0.95],[4190,0.9,0.94,0.98,1.02],[4220,0.86,0.89,0.92,0.95,0.98,1.01,1.04,1.07,1.1],[4250,0.82],[4260,0.88,0.93,0.97,1.02],[4300,0.83],[4360,0.97,1.0,1.03,1.06,1.1],[4400,0.98,1.02,1.05],[4440,0.96,1.0,1.04,1.08],[4480,1.0,1.03,1.07],[4520,0.98,1.01,1.05],[4560,1.01,1.05],[4600,1.04],[4680,1.06,1.1,1.13],[4720,1.08,1.12,1.15],[4760,1.07,1.1,1.14],[4800,1.08,1.12,1.16,1.2],[4840,1.1,1.14,1.18,1.22,1.25],[4880,1.08,1.12,1.16,1.2,1.24],[4920,1.1,1.15,1.19,1.23],[4960,1.13],[5120,1.2],[5220,1.18],[5280,1.22],[5450,1.23],[5520,1.24],[5580,1.23,1.26,1.3,1.34],[5610,1.22,1.26,1.3,1.34,1.38,1.42,1.45],[5640,1.25,1.28],[5700,1.28,1.32,1.36],[5720,1.26,1.29,1.32,1.35,1.38,1.41,1.44,1.48,1.52]
];
const rnaModels = [
[200,0.02,0.04],[250,0.025,0.05],[300,0.03,0.06],[350,0.04,0.065],[400,0.05,0.075],[450,0.055,0.085],[500,0.06,0.09],[550,0.07,0.1],[600,0.08,0.11],[650,0.09,0.12,0.14],[700,0.1,0.13],[750,0.1,0.13,0.15],[800,0.11,0.14],[850,0.12,0.15],[900,0.13,0.16],[950,0.14,0.17],[1000,0.15,0.18,0.21],[1050,0.16,0.19],[1100,0.17,0.2,0.23],[1150,0.18,0.21],[1200,0.19,0.22,0.25],[1230,0.19,0.22,0.25,0.28],[1280,0.2,0.23,0.26],[1330,0.21,0.24,0.27,0.29],[1380,0.22,0.25,0.28,0.31],[1430,0.23,0.26,0.29,0.32],[1480,0.25,0.28,0.31],[1530,0.26,0.29,0.32,0.34],[1580,0.27,0.3,0.33,0.36],[1630,0.28,0.31,0.34],[1700,0.29,0.32,0.35,0.38],[1750,0.31,0.34,0.37],
[2030,0.35,0.38,0.41,0.44,0.47],[2050,0.36,0.4,0.44],[2250,0.4,0.43,0.46,0.49,0.52,0.59],[2270,0.42,0.46,0.5],[2490,0.45,0.48,0.51,0.54,0.57,0.6],[2520,0.46,0.5,0.54,0.58,0.61],[2600,0.47,0.5,0.53,0.56,0.59,0.62],[2690,0.5,0.54,0.58],[2800,0.54],[2990,0.56,0.59,0.62,0.65,0.68,0.71],[3010,0.57,0.61,0.65,0.7],[3090,0.6,0.63,0.66,0.69,0.72,0.76],[3110,0.62,0.66,0.7,0.74],[3240,0.64,0.67,0.7,0.73,0.76,0.79],[3260,0.66,0.7,0.74,0.78],[3340,0.74],[3710,0.75,0.78,0.81,0.84,0.87,0.9,0.92],[3730,0.77,0.81,0.85,0.89],[4315,0.94,0.97,1.0,1.03,1.06,1.09,1.12,1.15,1.18],[4330,0.96,1.02,1.08,1.14]
];

// ---------- D: parallel vs serial implementation ----------
const atomTicksParallel = [20000, 40000, 60000, 80000, 100000];
const secTicksParallel = [0, 10, 20, 30, 40, 50, 60];
const timingNames = ["Nelygiagrečios proc. laikas", "Lygiagrečios proc. laikas", "Lygiagrečios veikimo laikas"];

const serialCpu = [
[14000,3.5,4.2],[14800,3.7,4.5],[15600,3.9,4.7],[16400,4.1,4.9],[17200,4.3,5.1],[18000,4.5,5.3],[18800,4.7,5.5],[19600,4.9,5.7],[20400,5.1,5.9],[21200,5.3,6.2],[22000,5.6,6.5],[22800,5.9,6.8],[23600,6.2,7.1],[24400,6.4,7.4,8.0],[25200,6.6,7.6,8.3],[26000,7.0,7.9],[26800,7.2,8.2,9.0],[27600,7.6,8.5],[28400,7.8,8.8,9.6],[29200,8.2,9.1],[30000,8.4,9.4,10.3],[30800,8.8,9.7],[31600,9.1,10.1,11.0],[32400,9.5,10.5],[33200,9.8,10.8,11.8],[34000,10.2,11.2],[34800,10.6,11.6,12.5],[35600,11.0,12.0],[36400,11.3,12.3,13.3],[37200,11.8,12.8],[38000,12.1,13.1,14.1],[38800,12.6,13.6],[39600,12.9,13.9,14.9],[40400,13.3,14.3],[41200,13.6,14.6,15.6],[42000,14.0,15.0],[42800,14.3,15.3,16.3],[43600,14.7,15.7],[44400,15.0,16.0,17.0],[45200,15.4,16.4,17.3],[46000,15.6,16.6,17.6],[46800,16.1,17.1,18.0],[47600,16.3,17.3,18.3],[48400,16.7,17.7,18.7],[49200,17.0,18.0,19.0],[50000,17.3,18.3,19.3,20.2],[50800,17.8,18.8,19.8],[51600,18.0,19.0,20.0,21.0],[52400,18.5,19.5,20.5],[53200,18.7,19.7,20.7,21.7],[54000,19.2,20.2,21.2],[54800,19.4,20.4,21.4,22.4],[55600,19.8,20.8,21.8],[56400,20.0,21.0,22.0,23.0],[57200,20.5,21.5,22.5],[58000,20.7,21.7,22.7,23.7],[58800,21.1,22.1,23.1,24.1],[59600,21.5,22.5,23.5,24.5],[60400,21.8,22.8,23.8],
[61000,21.5,23,24.5],[62000,22,24,25.5],[63000,22.5,24,26],[64000,22.8,25,27],[65000,22.3,24.5,26.8],[66000,25,27.5],[67000,24,26],[68000,24.5,26.5,28],[69000,23.5,26],[70000,25.8,27.2],[71000,26,28.4],[72000,27,29],[73000,28.5,30.6,32.5],[74000,27.5,29,31],[75000,28,29.5],[76000,29.5],[78000,30.5],[79000,29,31.5,33],[80000,30.2,32.4],[81000,31,32],[82000,31.5,33.5],[83000,33.5,35.5,37],[83500,34,36,38,39.5],[84000,35.5,37.5],[86000,35],[87000,33.5],[88000,37.5,40.5,42],[89000,38,40,42,44],[90000,37,38.5,40,41.5,43,44.5],[91000,36.5,38,39.5,41,42.5,44],[92000,37,39,40.5,42,43.5,45],[93000,40,42,43.5,45],[94000,41,43,44.5,46],[94500,36],[96000,41.5,45],[97000,40,42.5,45],[99000,41,43],[100000,40.5,46.5],[102000,44.5]
];
const parallelCpu = [
[14000,4.5,5.4],[14700,3.5],[14800,4.8,5.7],[15600,5.0,5.9],[16400,5.3,6.2],[17200,5.5,6.4],[18000,5.8,6.7],[18800,6.0,6.9],[19600,6.2,7.2],[20400,6.4,7.4],[21200,6.7,7.6,8.4],[22000,7.0,7.9],[22800,7.2,8.1,8.9],[23600,7.5,8.4],[24400,7.7,8.6,9.5],[25200,8.0,9.0],[25500,10.5],[26000,8.3,9.2,10.1],[26800,8.6,9.6],[27600,8.9,9.9,10.8],[28400,9.3,10.3],[29200,9.6,10.6,11.5],[30000,10.0,11.0,14.0],[30800,10.3,11.3,12.3],[31600,10.8,11.8],[32400,11.1,12.1,13.1],[33200,11.5,12.5],[34000,11.9,12.9,13.9],[34800,12.3,13.3],[35600,12.7,13.7,14.7],[36400,13.1,14.1],[37200,13.5,14.5,15.5],[38000,13.9,14.9],[38800,14.3,15.3,16.3],[39600,14.8,15.8],[40400,15.1,16.1,17.1],[41200,15.6,16.6],[42000,15.9,16.9,17.9],[42800,16.3,17.3],[43600,16.6,17.6,18.6],[44400,17.0,18.0],[45200,17.4,18.4,19.4],[46000,17.8,18.8],[46800,18.1,19.1,20.1],[47600,18.5,19.5],[48400,18.8,19.8,20.8],[49200,19.3,20.3],[50000,19.6,20.6,21.6,22.5],[50800,20.0,21.0,22.0],[51600,20.2,21.2,22.2,23.2],[52400,20.6,21.6,22.6],[53200,20.9,21.9,22.9,23.9],[54000,21.3,22.3,23.3],[54800,21.6,22.6,23.6,24.6],[55600,22.0,23.0,24.0],[56400,22.4,23.4,24.4,25.4],[57200,22.9,23.9,24.9],[58000,23.3,24.3,25.3,26.3],[58800,23.8,24.8,25.8,26.8],[59600,24.2,25.2,26.2,27.2],[60400,24.6,25.6,26.6],
[61000,24,26,28],[62000,24.5,27,29.5,31],[63000,25,27.5],[64000,26,28.5,30],[65000,26.5,29,31.5,32.5],[66000,27,29.5],[67000,28,30,31.8],[68000,26.5,29],[69000,28.5,31],[70000,29.5,32],[71000,30,33.5],[72000,29,31.5,34],[73000,32.5,35,37.8],[74000,31,33,35.5],[75000,30.5,33.5],[76000,32,35],[78000,33,35,37.5],[79000,34.5,36],[80000,33.5,36,37.5],[81000,32.5,35,37],[82000,34,36.5],[83000,37.5,40,42],[84000,40.5,42.5,44.5],[85000,43],[87000,42,44.5,46.5],[88000,43.5,46,48],[89000,42.5,44.5,46.5,48.5,50],[90000,43,45,47,49,50.5],[91000,44,46,48,50],[92000,42,44.5,46.5,48.5],[93000,45,47,49.5,51.5],[94000,46,48.5,50.5],[95000,44,47,50],[96000,46,48.5],[97000,45,47.5,50],[98000,46.5],[100000,45,51],[102000,49]
];
const parallelWall = [
[14000,1.4,2.0],[14800,1.5,2.1],[15600,1.7,2.2],[16400,1.8,2.3],[17200,1.9,2.5],[18000,2.0,2.6],[18800,2.1,2.7],[19600,2.2,2.8],[20400,2.3,2.9],[21200,2.4,3.0],[22000,2.5,3.1],[22800,2.6,3.2],[23600,2.7,3.3],[24400,2.8,3.4],[25200,2.9,3.5],[26000,3.0,3.7],[26800,3.2,3.8],[27600,3.3,3.9],[28400,3.4,4.1],[29200,3.5,4.2],[30000,3.6,4.3],[30800,3.8,4.5],[31600,3.9,4.6],[32400,4.0,4.8],[33200,4.2,4.9],[34000,4.3,5.1],[34800,4.5,5.2],[35600,4.6,5.4],[36400,4.8,5.5],[37200,4.9,5.7],[38000,5.1,5.9],[38800,5.3,6.1],[39600,5.4,6.2],[40400,5.6,6.4],[41200,5.7,6.6,7.3],[42000,5.9,6.7],[42800,6.1,6.9],[43600,6.2,7.1],[44400,6.4,7.2],[45200,6.6,7.4],[46000,6.7,7.6],[46800,6.9,7.7],[47600,7.0,7.9],[48400,7.1,8.0],[49200,7.3,8.2,8.9],[50000,7.4,8.3],[50800,7.6,8.5],[51600,7.7,8.6],[52400,7.8,8.7],[53200,8.0,8.9],[54000,8.1,9.0],[54800,8.2,9.1],[55600,8.4,9.3],[56400,8.5,9.4],[57200,8.6,9.5],[58000,8.7,9.6],[58800,8.9,9.8],[59600,9.0,9.9],[60400,9.1,10.1],[61200,9.2,10.2],[62000,9.3,10.3],[62800,9.5,10.5],[63600,9.6,10.6],[64400,9.8,10.8,11.5],[65200,9.9,10.9],[66000,10.1,11.0],[66800,10.2,11.2],[67600,10.4,11.3],[68400,10.5,11.4],[69200,10.6,11.5],[70000,10.8,11.6],
[71000,10.8,11.8],[72000,11.2],[73000,11.0,12.2,13.4],[74000,11.8],[75000,11.5,12.5],[77000,12.0],[78000,12.6,13.3],[79000,12.0],[80000,12.5,13.5],[81000,13.0],[82000,12.6,13.8],[83000,13.4,14.3],[84000,14.0,15.0],[86000,13.4],[87000,13.0,15.5],[88000,15.0,16.2],[89000,14.5,15.5,16.5,17.5],[90000,14.2,15.2,16.2,17.2,18.2],[90700,15.0,16.0,17.0,19.5],[91000,14.5,15.5,16.5,17.5],[92000,14.0,15.0,16.0,17.0],[93000,14.8,15.8,16.8,18.2],[94000,15.5,16.5,17.5],[95000,15.0,16.6],[96000,16.0,17.0],[97000,14.5,15.5,16.8],[99000,15.8,16.5],[100000,16.0,16.5],[102000,17.2]
];

// ---------- drawing ----------
const RED = "#FF4000", GREEN = "#00FF40", BLUE = "#4000FF";
const SANS = "'Liberation Sans', Arial, Helvetica, sans-serif";
const DEJAVU = "'DejaVu Sans', sans-serif";
const POINT_R = 2.5;

const panels = [
  { letter: "A", letterPos: [12, 40],
    title: ["Procesoriaus laikas apdorojant", "visas PDB struktūras"], titleCx: 334.6, xLabelCx: 337,
    box: [95, 98.3, 588, 373], xDomain: [-4251, 106040], yDomain: [-13.76, 364.3],
    xTicks: atomTicksAll, yTicks: secTicksAll, yLabels: secLabelsAll, yFmt: d3.format("d"),
    series: [[qtfierAll, RED], [awVoronoiAll, GREEN], [voronotaAll, BLUE]],
    legend: { rect: [96, 98.3, 216, 181], rows: [120, 141, 161], dotX: 111, textX: 127, font: SANS, size: 17, dy: 6,
              names: toolNames, colors: [RED, GREEN, BLUE] } },
  { letter: "B", letterPos: [628, 40],
    title: ["Procesoriaus laikas apdorojant", "95% mažiausių PDB struktūrų"], titleCx: 955.8, xLabelCx: 958,
    box: [715.7, 98.3, 1195, 373], xDomain: [-589, 14833], yDomain: [-0.983, 26.02],
    xTicks: atomTicksSmall, yTicks: secTicksSmall, yLabels: secTicksSmall, yFmt: d3.format("d"),
    series: [[qtfierSmall, RED], [awVoronoiSmall, GREEN], [voronotaSmall, BLUE]],
    legend: { rect: [715.7, 98.3, 835.7, 181], rows: [119.3, 140.7, 161.7], dotX: 730.7, textX: 746.7, font: SANS, size: 17, dy: 6,
              names: toolNames, colors: [RED, GREEN, BLUE] } },
  { letter: "C", letterPos: [10, 506],
    title: ["Procesoriaus laikas apdorojant", "baltymų ir RNR modelius"], titleCx: 334.6, xLabelCx: 337,
    box: [95.8, 564, 588.5, 838], xDomain: [-235, 6241], yDomain: [-0.0786, 2.076],
    xTicks: atomTicksModels, yTicks: secTicksModels, yLabels: secTicksModels, yFmt: d3.format(".1f"),
    series: [[proteinModels, RED], [rnaModels, BLUE]],
    legend: { rect: [96, 564, 249.3, 625.3], rows: [584.7, 605.3], dotX: 111, textX: 124.3, font: DEJAVU, size: 12.4, dy: 4.5,
              names: modelNames, colors: [RED, BLUE] } },
  { letter: "D", letterPos: [628, 505],
    title: ["Lygiagrečios ir nelygiagrečios", "realizacijų procesoriaus laikai"], titleCx: 954, xLabelCx: 956.4,
    box: [715.7, 564, 1206.7, 838], xDomain: [10240, 105510], yDomain: [-2.36, 62.29],
    xTicks: atomTicksParallel, yTicks: secTicksParallel, yLabels: secTicksParallel, yFmt: d3.format("d"),
    series: [[serialCpu, RED], [parallelCpu, GREEN], [parallelWall, BLUE]],
    legend: { rect: [715.7, 564, 926.3, 646.3], rows: [583.7, 605, 626], dotX: 731.3, textX: 744.7, font: DEJAVU, size: 12.4, dy: 4.5,
              names: timingNames, colors: [RED, GREEN, BLUE] } }
];

const svg = d3.select("#fig");
svg.append("rect").attr("width", 1214).attr("height", 917).attr("fill", "#fff");

const toPoints = cols => cols.flatMap(c => c.slice(1).map(v => ({ x: c[0], y: v })));

panels.forEach(p => {
  const [x0, y0, x1, y1] = p.box;
  const g = svg.append("g");
  const x = d3.scaleLinear().domain(p.xDomain).range([x0, x1]);
  const y = d3.scaleLinear().domain(p.yDomain).range([y1, y0]);

  // scatter points
  p.series.forEach(([cols, color]) => {
    g.append("g").selectAll("circle").data(toPoints(cols)).join("circle")
      .attr("cx", d => x(d.x)).attr("cy", d => y(d.y)).attr("r", POINT_R).attr("fill", color);
  });

  // frame
  g.append("rect").attr("x", x0).attr("y", y0).attr("width", x1 - x0).attr("height", y1 - y0)
    .attr("fill", "none").attr("stroke", "#222").attr("stroke-width", 1);

  // x axis
  const xa = g.append("g").attr("transform", `translate(0,${y1})`)
    .call(d3.axisBottom(x).tickValues(p.xTicks).tickSize(10).tickSizeOuter(0).tickFormat(d3.format("d")));
  xa.select(".domain").attr("stroke", "#222");
  xa.selectAll(".tick line").attr("stroke", "#222");
  xa.selectAll(".tick text").attr("y", 40.3).attr("dy", 0)
    .attr("font-family", SANS).attr("font-size", 16.5).attr("fill", "#111");

  // y axis with rotated labels
  const ya = g.append("g").attr("transform", `translate(${x0},0)`)
    .call(d3.axisLeft(y).tickValues(p.yTicks).tickSize(10).tickSizeOuter(0).tickFormat(p.yFmt));
  ya.select(".domain").attr("stroke", "#222");
  ya.selectAll(".tick line").attr("stroke", "#222");
  ya.selectAll(".tick text")
    .text(d => p.yLabels.includes(d) ? p.yFmt(d) : "")
    .attr("x", 0).attr("y", 0).attr("dy", 0)
    .attr("transform", "translate(-21.5,0) rotate(-90)")
    .attr("text-anchor", "middle")
    .attr("font-family", SANS).attr("font-size", 16.5).attr("fill", "#111");

  // two-line title
  [p.title[0], p.title[1]].forEach((line, i) => {
    g.append("text").attr("x", p.titleCx).attr("y", y0 - (i === 0 ? 43.5 : 20))
      .attr("text-anchor", "middle").attr("font-family", DEJAVU)
      .attr("font-size", 21.5).attr("fill", "#111").text(line);
  });

  g.append("text").attr("x", p.xLabelCx).attr("y", y1 + 74.4).attr("text-anchor", "middle")
    .attr("font-family", DEJAVU).attr("font-size", 17).attr("fill", "#111").text("Atomų skaičius");

  g.append("text").attr("transform", `translate(${x0 - 64},${(y0 + y1) / 2 + 1.5}) rotate(-90)`)
    .attr("text-anchor", "middle").attr("font-family", DEJAVU).attr("font-size", 17).attr("fill", "#111")
    .text("Sekundės");

  g.append("text").attr("x", p.letterPos[0]).attr("y", p.letterPos[1])
    .attr("font-family", SANS).attr("font-size", 35).attr("fill", "#000").text(p.letter);

  // legend
  const L = p.legend;
  const lg = g.append("g");
  lg.append("rect").attr("x", L.rect[0]).attr("y", L.rect[1])
    .attr("width", L.rect[2] - L.rect[0]).attr("height", L.rect[3] - L.rect[1])
    .attr("fill", "#fff").attr("stroke", "#222");
  L.names.forEach((name, i) => {
    lg.append("circle").attr("cx", L.dotX).attr("cy", L.rows[i]).attr("r", 3.4).attr("fill", L.colors[i]);
    lg.append("text").attr("x", L.textX).attr("y", L.rows[i] + L.dy)
      .attr("font-family", L.font).attr("font-size", L.size).attr("fill", "#111").text(name);
  });
});
</script>
</body>
</html>
